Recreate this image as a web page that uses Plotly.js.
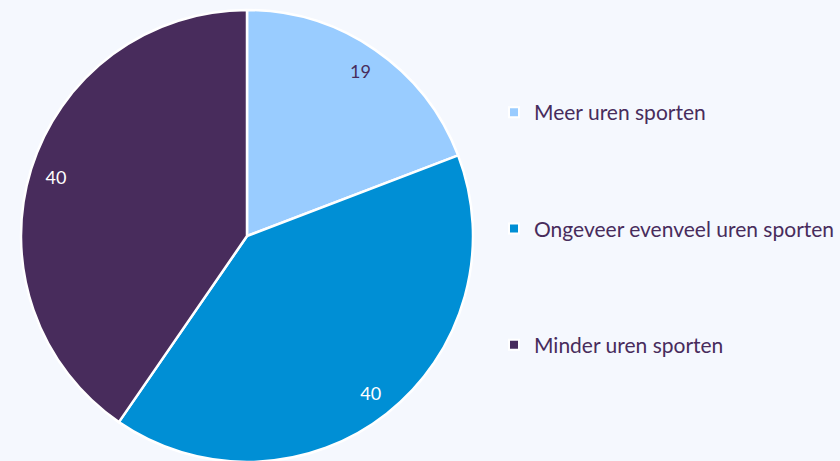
<!DOCTYPE html>
<html><head><meta charset="utf-8">
<script src="https://cdn.plot.ly/plotly-3.0.1.min.js"></script>
<style>html,body{margin:0;padding:0;overflow:hidden;background:#F5F8FE;}#chart{width:840px;height:462px;}</style>
</head><body><div id="chart"></div>
<script>
var labels = ["Meer uren sporten", "Ongeveer evenveel uren sporten", "Minder uren sporten"];
var values = [19, 40, 40];
var colors = ["#99CCFF", "#008FD5", "#482C5C"];
var textColors = ["#482C5C", "#FFFFFF", "#FFFFFF"];

var dom = {x: [21/840, 473/840], y: [0, 1]};
var traces = [{
  type: "pie",
  labels: labels,
  values: values,
  sort: false,
  direction: "clockwise",
  rotation: 0,
  marker: {colors: colors, line: {color: "#FFFFFF", width: 2.5}},
  textinfo: "none",
  showlegend: false,
  hoverinfo: "label+value",
  domain: dom
}, {
  type: "pie",
  labels: labels,
  values: values,
  sort: false,
  direction: "clockwise",
  rotation: 0,
  hole: 0.77,
  marker: {colors: ["rgba(0,0,0,0)", "rgba(0,0,0,0)", "rgba(0,0,0,0)"], line: {width: 0}},
  textinfo: "value",
  textposition: "inside",
  insidetextorientation: "horizontal",
  textfont: {family: "Lato", size: 18, color: textColors},
  showlegend: false,
  hoverinfo: "skip",
  domain: dom
}];
labels.forEach(function(l, i) {
  traces.push({
    type: "scatter", mode: "markers", x: [null], y: [null], name: l,
    legendgroup: "g" + i,
    marker: {symbol: "square", size: 10, color: colors[i], line: {color: "#FFFFFF", width: 2}},
    showlegend: true, hoverinfo: "skip"
  });
});

Plotly.newPlot("chart", traces, {
  width: 840, height: 462,
  margin: {l: 0, r: 0, t: 10, b: 0},
  paper_bgcolor: "#F5F8FE", plot_bgcolor: "#F5F8FE",
  font: {family: "Lato", color: "#482C5C"},
  xaxis: {visible: false}, yaxis: {visible: false},
  legend: {
    x: 494/840, xanchor: "left", y: 1 - (92-10)/452, yanchor: "top",
    font: {family: "Lato", size: 21, color: "#482C5C"},
    tracegroupgap: 86, itemwidth: 30, bgcolor: "rgba(0,0,0,0)"
  },
  showlegend: true
}, {displayModeBar: false, staticPlot: true});
</script></body></html>
